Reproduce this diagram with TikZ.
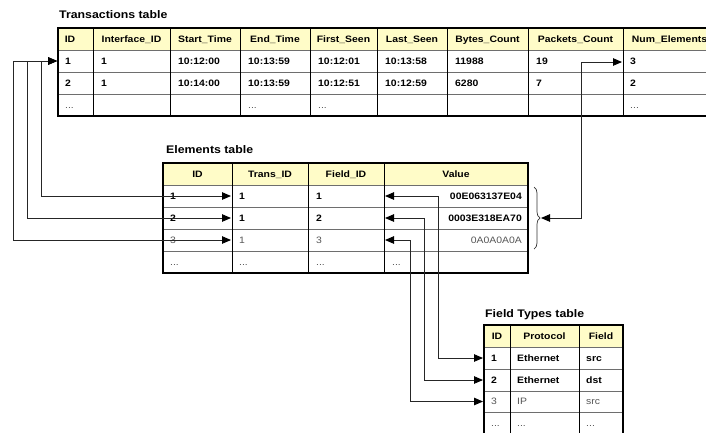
\documentclass[tikz,border=0pt]{standalone}
\usepackage{fontspec}
\newfontfamily\tabfont[FakeStretch=1.12]{Liberation Sans}
\usetikzlibrary{arrows.meta,decorations.pathreplacing}
\definecolor{hdrcol}{RGB}{255,252,200}
\definecolor{gtxt}{RGB}{85,85,85}
\definecolor{hcol}{RGB}{110,110,110}
\begin{document}
\begin{tikzpicture}[x=1pt,y=-1pt,
  every node/.style={inner sep=0pt},
  tabtitle/.style={font=\tabfont\bfseries\fontsize{11}{12}\selectfont, anchor=base west},
  hd/.style={font=\tabfont\bfseries\fontsize{9.3}{10}\selectfont, anchor=center, text height=6.7pt, text depth=0pt},
  bc/.style={font=\tabfont\bfseries\fontsize{9.3}{10}\selectfont, anchor=west, text height=6.7pt, text depth=0pt},
  bce/.style={bc, anchor=east},
  gc/.style={font=\tabfont\fontsize{9.3}{10}\selectfont, text=gtxt, anchor=west, text height=6.7pt, text depth=0pt},
  gce/.style={gc, anchor=east},
  hdrfill/.style={fill=hdrcol},
  vline/.style={draw=black, line width=0.8pt},
  hline/.style={draw=hcol, line width=1pt},
  outer/.style={draw=black, line width=2pt},
  tip/.tip={Triangle[length=9pt,width=7.5pt,fill=black,color=black]},
  conn/.style={draw=black!85, line width=0.9pt, tip-tip},
  bracestyle/.style={draw=black!80, line width=0.7pt, decorate, decoration={brace, amplitude=6pt}}
]
\useasboundingbox (0,0) rectangle (706,432);
\clip (0,0) rectangle (706,432);

% ---------------- Transactions table ----------------
\node[tabtitle] (ttitle) at (59,18) {Transactions table};
\fill[hdrfill] (58,28) rectangle (716,50);
\foreach \y in {50,72,94} \draw[hline] (58,\y) -- (716,\y);
\foreach \x in {93,170,240,310,377,447,528,623} \draw[vline] (\x,28) -- (\x,116);
\draw[outer] (58,28) rectangle (716,116);
\foreach \x/\t [count=\i] in {70/ID,131.5/Interface\_ID,205/Start\_Time,275/End\_Time,343.5/First\_Seen,412/Last\_Seen,487.5/Bytes\_Count,575.5/Packets\_Count,669.5/Num\_Elements}
  \node[hd] (th\i) at (\x,39) {\t};
\foreach \x/\t [count=\i] in {65/1,101/1,178/10:12:00,248/10:13:59,318/10:12:01,385/10:13:58,455/11988,536/19,630/3}
  \node[bc] (ta\i) at (\x,61) {\t};
\foreach \x/\t [count=\i] in {65/2,101/1,178/10:14:00,248/10:13:59,318/10:12:51,385/10:12:59,455/6280,536/7,630/2}
  \node[bc] (tb\i) at (\x,83) {\t};
\foreach \x [count=\i] in {65,248,318,630}
  \node[gc] (tc\i) at (\x,105) {...};

% ---------------- Elements table ----------------
\node[tabtitle] (etitle) at (166,153) {Elements table};
\fill[hdrfill] (163,163) rectangle (528,185);
\foreach \y in {185,207,229,251} \draw[hline] (163,\y) -- (528,\y);
\foreach \x in {232,308,384} \draw[vline] (\x,163) -- (\x,273);
\draw[outer] (163,163) rectangle (528,273);
\foreach \x/\t [count=\i] in {197.5/ID,270/Trans\_ID,346/Field\_ID,456/Value}
  \node[hd] (eh\i) at (\x,174) {\t};
\node[bc] (ea1) at (170,196) {1};
\node[bc] (ea2) at (239,196) {1};
\node[bc] (ea3) at (316,196) {1};
\node[bce] (ea4) at (522,196) {00E063137E04};
\node[bc] (eb1) at (170,218) {2};
\node[bc] (eb2) at (239,218) {1};
\node[bc] (eb3) at (316,218) {2};
\node[bce] (eb4) at (522,218) {0003E318EA70};
\node[gc] (ec1) at (170,240) {3};
\node[gc] (ec2) at (239,240) {1};
\node[gc] (ec3) at (316,240) {3};
\node[gce] (ec4) at (522,240) {0A0A0A0A};
\foreach \x [count=\i] in {170,239,316,392}
  \node[gc] (ed\i) at (\x,262) {...};

% ---------------- Field Types table ----------------
\node[tabtitle] (ftitle) at (485,317) {Field Types table};
\fill[hdrfill] (484,325) rectangle (623,347);
\foreach \y in {347,369,391,412} \draw[hline] (484,\y) -- (623,\y);
\foreach \x in {510,579} \draw[vline] (\x,325) -- (\x,436);
\draw[outer] (484,436) -- (484,325) -- (623,325) -- (623,436);
\foreach \x/\t [count=\i] in {497/ID,544.5/Protocol,601/Field}
  \node[hd] (fh\i) at (\x,336) {\t};
\node[bc] (fa1) at (491,358) {1};
\node[bc] (fa2) at (517,358) {Ethernet};
\node[bc] (fa3) at (586,358) {src};
\node[bc] (fb1) at (491,380) {2};
\node[bc] (fb2) at (517,380) {Ethernet};
\node[bc] (fb3) at (586,380) {dst};
\node[gc] (fc1) at (491,401.5) {3};
\node[gc] (fc2) at (517,401.5) {IP};
\node[gc] (fc3) at (586,401.5) {src};
\foreach \x [count=\i] in {491,517,586}
  \node[gc] (fd\i) at (\x,423) {...};

% ---------------- connector end points ----------------
\coordinate (tid1) at (57,61);
\coordinate (tnum1) at (622,62);
\coordinate (etr1) at (231,196);
\coordinate (etr2) at (231,218);
\coordinate (etr3) at (231,240);
\coordinate (eval1) at (385,196);
\coordinate (eval2) at (385,218);
\coordinate (eval3) at (385,240);
\coordinate (fid1) at (483,358);
\coordinate (fid2) at (483,380);
\coordinate (fid3) at (483,401.5);
\coordinate (btop) at (534,187);
\coordinate (bbot) at (534,249);
\coordinate (btip) at (541,218);

% brace
\draw[bracestyle] (btop) -- (bbot);

% ---------------- connectors ----------------
\draw[conn] (etr1) -| (41,61) -- (tid1);
\draw[conn] (etr2) -| (27,61) -- (tid1);
\draw[conn] (etr3) -| (13,61) -- (tid1);
\draw[conn] (eval1) -| (438,358) -- (fid1);
\draw[conn] (eval2) -| (424,380) -- (fid2);
\draw[conn] (eval3) -| (410,401.5) -- (fid3);
\draw[conn] (btip) -| (581,62) -- (tnum1);
\end{tikzpicture}
\end{document}
